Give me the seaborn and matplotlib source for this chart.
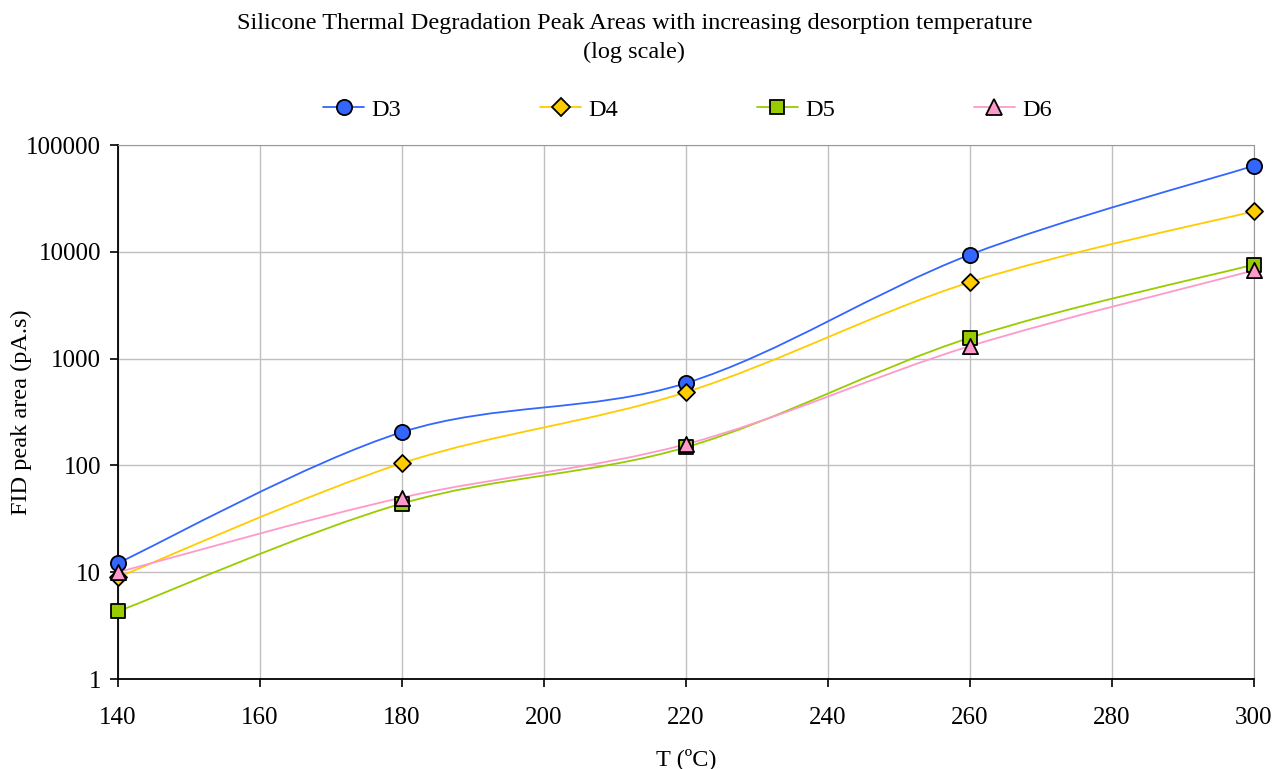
import numpy as np
import pandas as pd
import seaborn as sns
import matplotlib.pyplot as plt
from matplotlib.path import Path
from matplotlib.patches import PathPatch
from matplotlib.lines import Line2D

temps = [140, 180, 220, 260, 300]
d3 = [12.2, 205, 590, 9400, 64000]
d4 = [9.0, 105, 485, 5200, 24000]
d5 = [4.3, 44, 148, 1570, 7600]
d6 = [10.0, 50, 158, 1310, 6700]

series = ['D3', 'D4', 'D5', 'D6']
colors = {'D3': '#3366FF', 'D4': '#FFCC00', 'D5': '#99CC00', 'D6': '#FF99CC'}
markers = {'D3': 'o', 'D4': 'D', 'D5': 's', 'D6': '^'}
msizes = {'D3': 120, 'D4': 75, 'D5': 115, 'D6': 120}

df = pd.DataFrame({'T': temps * 4,
                   'area': d3 + d4 + d5 + d6,
                   'compound': sum([[s] * len(temps) for s in series], [])})

sns.set_style('white')
plt.rcParams['font.family'] = ['Liberation Serif', 'DejaVu Serif']
plt.rcParams['text.color'] = 'black'
plt.rcParams['axes.labelcolor'] = 'black'
plt.rcParams['xtick.color'] = 'black'
plt.rcParams['ytick.color'] = 'black'

fig = plt.figure(figsize=(12.84, 7.69), dpi=100)
ax = fig.add_axes([0.0919, 0.117, 0.8847, 0.6944])
ax.set_yscale('log')


def smooth_path(xs, ys):
    # Excel-style smoothing: bezier through the points, done in log-y space
    px = np.asarray(xs, float)
    py = np.log10(np.asarray(ys, float))
    n = len(px)
    verts = [(px[0], py[0])]
    codes = [Path.MOVETO]
    for i in range(n - 1):
        a = max(i - 1, 0)
        b = min(i + 2, n - 1)
        c1 = (px[i] + (px[i + 1] - px[a]) / 6, py[i] + (py[i + 1] - py[a]) / 6)
        c2 = (px[i + 1] - (px[b] - px[i]) / 6, py[i + 1] - (py[b] - py[i]) / 6)
        verts += [c1, c2, (px[i + 1], py[i + 1])]
        codes += [Path.CURVE4] * 3
    verts = [(x, 10 ** y) for x, y in verts]
    return Path(verts, codes)


for s in series:
    sub = df[df['compound'] == s]
    ax.add_patch(PathPatch(smooth_path(sub['T'], sub['area']), fill=False,
                           edgecolor=colors[s], lw=1.3, zorder=3))

for s in series:
    sub = df[df['compound'] == s]
    sns.scatterplot(data=sub, x='T', y='area', marker=markers[s], s=msizes[s],
                    color=colors[s], edgecolor='black', linewidth=1.3,
                    zorder=4, clip_on=False, ax=ax, legend=False)

ax.set_xlim(140, 300)
ax.set_ylim(1, 100000)
ax.set_xticks(range(140, 301, 20))
ax.set_yticks([1, 10, 100, 1000, 10000, 100000])
ax.set_yticklabels(['1', '10', '100', '1000', '10000', '100000'])
ax.minorticks_off()
ax.grid(True, color='#C0C0C0', lw=1)
ax.set_axisbelow(True)
for side in ['top', 'right']:
    ax.spines[side].set_color('#999999')
for side in ['left', 'bottom']:
    ax.spines[side].set_color('black')
    ax.spines[side].set_linewidth(1.3)
ax.tick_params(axis='both', which='major', labelsize=18, direction='out',
               length=6, width=1.2, left=True, bottom=True)
ax.tick_params(axis='x', pad=14)
ax.tick_params(axis='y', pad=6)

ax.set_xlabel('T (ºC)', fontsize=17.5, labelpad=14)
ax.set_ylabel('FID peak area (pA.s)', fontsize=17.5)
ax.yaxis.set_label_coords(-0.076, 0.5)

fig.text(0.494, 0.983, 'Silicone Thermal Degradation Peak Areas with increasing desorption temperature\n(log scale)',
         ha='center', va='top', fontsize=17.5, linespacing=1.5)

handles = [Line2D([], [], color=colors[s], lw=1.3, marker=markers[s],
                  markersize=np.sqrt(msizes[s]), markerfacecolor=colors[s],
                  markeredgecolor='black', markeredgewidth=1.3) for s in series]
fig.legend(handles, series, loc='center', bbox_to_anchor=(0.5355, 0.857), ncol=4,
           frameon=False, fontsize=17.5, handlelength=1.7, columnspacing=5.7,
           handletextpad=0.3)

fig.savefig('out.png', dpi=100)
